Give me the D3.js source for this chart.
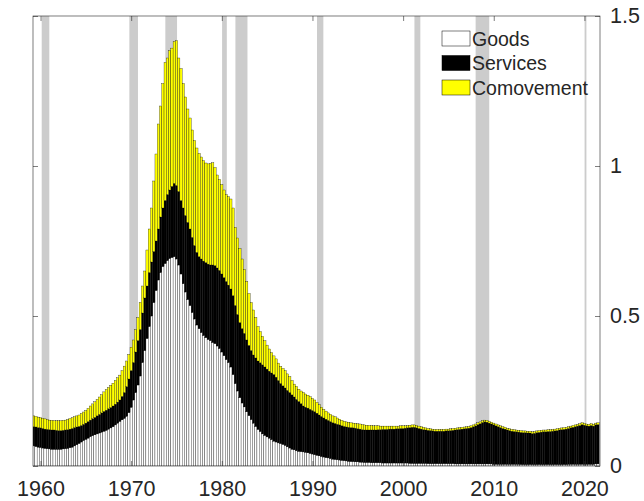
<!DOCTYPE html>
<html>
<head>
<meta charset="utf-8">
<script src="https://cdn.jsdelivr.net/npm/d3@7"></script>
<style>
  body { margin: 0; background: #fff; }
  text { font-family: "Liberation Sans", Arial, sans-serif; fill: #262626; }
</style>
</head>
<body>
<svg width="644" height="501"></svg>
<script>
// **** Data: quarterly, first bar is 1959 Q2 ****
var firstQuarter = 1959.25;

var goods = [
  .067,.065,.063,.062,.060,.059,.058,.057,.056,.056,
  .056,.056,.056,.057,.058,.059,.061,.063,.067,.071,
  .075,.080,.085,.089,.093,.098,.101,.104,.107,.110,
  .113,.116,.119,.123,.127,.131,.137,.143,.149,.154,
  .159,.166,.178,.196,.220,.245,.270,.300,.345,.385,
  .425,.465,.500,.545,.585,.620,.645,.665,.675,.685,
  .692,.695,.698,.690,.670,.640,.608,.580,.555,.535,
  .512,.490,.470,.458,.445,.435,.428,.422,.418,.412,
  .408,.400,.392,.380,.368,.355,.345,.330,.305,.275,
  .250,.228,.210,.197,.181,.168,.155,.143,.132,.122,
  .115,.107,.102,.097,.093,.088,.083,.080,.077,.075,
  .072,.069,.064,.060,.056,.054,.051,.049,.048,.047,
  .046,.044,.042,.040,.038,.036,.034,.032,.030,.028,
  .027,.025,.023,.022,.021,.020,.019,.018,.017,.016,
  .015,.015,.014,.014,.013,.013,.012,.012,.012,.011,
  .011,.011,.011,.011,.010,.010,.010,.010,.010,.010,
  .010,.010,.010,.010,.010,.010,.009,.009,.009,.009,
  .009,.009,.009,.009,.008,.008,.008,.008,.008,.008,
  .008,.008,.008,.008,.008,.008,.007,.007,.007,.007,
  .007,.007,.007,.007,.007,.007,.007,.007,.007,.007,
  .007,.007,.007,.006,.006,.006,.006,.006,.006,.006,
  .006,.006,.006,.006,.006,.005,.005,.005,.005,.005,
  .005,.005,.005,.005,.005,.005,.005,.005,.005,.005,
  .005,.005,.005,.005,.005,.005,.006,.006,.006,.006,
  .006,.006,.006,.006,.006,.006,.006,.006,.007,.007
];

var services = [
  .064,.065,.065,.065,.065,.064,.064,.064,.064,.064,
  .063,.062,.062,.062,.062,.062,.062,.062,.061,.059,
  .057,.055,.054,.054,.055,.055,.057,.058,.060,.062,
  .064,.066,.067,.068,.068,.069,.069,.070,.071,.078,
  .086,.099,.112,.122,.125,.135,.148,.155,.165,.175,
  .175,.180,.180,.170,.165,.170,.185,.195,.210,.220,
  .228,.237,.244,.245,.245,.245,.252,.255,.257,.255,
  .250,.245,.242,.240,.245,.248,.250,.251,.252,.258,
  .260,.260,.260,.260,.260,.260,.258,.260,.263,.260,
  .255,.250,.248,.245,.239,.234,.230,.227,.228,.228,
  .229,.230,.228,.226,.223,.222,.222,.216,.208,.200,
  .195,.191,.188,.185,.181,.176,.171,.166,.160,.153,
  .150,.149,.147,.145,.143,.140,.136,.133,.130,.128,
  .125,.123,.121,.120,.118,.117,.115,.114,.113,.113,
  .113,.112,.112,.110,.110,.108,.108,.108,.108,.109,
  .109,.109,.110,.110,.112,.112,.112,.113,.113,.113,
  .114,.114,.115,.115,.116,.117,.119,.120,.120,.118,
  .116,.114,.112,.111,.111,.110,.109,.108,.108,.108,
  .108,.108,.109,.109,.110,.111,.113,.114,.115,.116,
  .117,.118,.119,.121,.124,.127,.131,.134,.138,.140,
  .139,.136,.133,.131,.128,.125,.122,.119,.117,.114,
  .112,.110,.109,.108,.107,.107,.106,.106,.105,.105,
  .103,.104,.106,.107,.108,.109,.109,.110,.110,.111,
  .112,.113,.115,.116,.117,.118,.119,.121,.123,.125,
  .127,.129,.132,.130,.128,.127,.129,.127,.130,.131
];

var comovement = [
  .036,.035,.035,.034,.034,.034,.033,.032,.032,.031,
  .032,.033,.033,.033,.033,.034,.035,.036,.036,.037,
  .038,.040,.041,.042,.044,.047,.049,.052,.055,.058,
  .061,.065,.069,.071,.074,.076,.079,.081,.083,.086,
  .088,.085,.082,.078,.075,.075,.077,.090,.090,.090,
  .120,.145,.180,.235,.290,.350,.370,.415,.460,.455,
  .465,.461,.473,.483,.445,.440,.415,.395,.378,.370,
  .358,.350,.348,.344,.340,.335,.332,.334,.339,.341,
  .327,.310,.303,.298,.292,.290,.295,.300,.292,.260,
  .255,.247,.232,.213,.195,.173,.160,.150,.135,.115,
  .104,.095,.088,.080,.074,.068,.062,.061,.058,.057,
  .058,.058,.055,.053,.048,.043,.043,.041,.042,.045,
  .044,.043,.042,.040,.039,.036,.034,.031,.029,.027,
  .025,.024,.023,.022,.021,.019,.018,.017,.017,.017,
  .016,.016,.016,.017,.017,.017,.017,.016,.015,.015,
  .014,.014,.013,.012,.011,.011,.011,.010,.010,.010,
  .009,.009,.009,.009,.008,.008,.008,.008,.008,.008,
  .008,.008,.008,.007,.006,.006,.006,.006,.006,.006,
  .006,.006,.006,.006,.006,.006,.006,.006,.006,.006,
  .006,.006,.006,.006,.006,.006,.006,.006,.006,.006,
  .006,.006,.006,.006,.006,.006,.006,.006,.006,.006,
  .006,.006,.006,.006,.006,.006,.006,.006,.006,.006,
  .006,.006,.006,.006,.006,.006,.006,.006,.006,.006,
  .006,.006,.006,.006,.006,.006,.006,.006,.006,.006,
  .006,.006,.006,.006,.006,.006,.006,.006,.006,.006
];

// recession bands, start and end as decimal years
var recessions = [
  [1960.13, 1960.97], [1969.80, 1970.75], [1973.77, 1975.06],
  [1980.03, 1980.55], [1981.50, 1982.83], [1990.50, 1991.20],
  [2001.25, 2001.90], [2008.00, 2009.50], [2020.02, 2020.22]
];

var xTicks = [1960, 1970, 1980, 1990, 2000, 2010, 2020];
var yTicks = [0, 0.5, 1, 1.5];
var seriesNames = ["Goods", "Services", "Comovement"];
var seriesColors = ["#ffffff", "#000000", "#ffff00"];

// **** Scales ****
var plotLeft = 33, plotRight = 600, plotTop = 16, plotBottom = 466;

var xScale = d3.scaleLinear()
    .domain([1959.17, 2021.72]).range([plotLeft, plotRight]);

var yScale = d3.scaleLinear()
    .domain([0, 1.5]).range([plotBottom, plotTop]);

var table = goods.map(function(g, i) {
    return {
        t: firstQuarter + i / 4,
        Goods: g,
        Services: services[i],
        Comovement: comovement[i]
    };
});

var stacked = d3.stack().keys(seriesNames)(table);

var step = xScale(firstQuarter + 0.25) - xScale(firstQuarter);
var barWidth = step;

var svg = d3.select("svg");

svg.append("rect")
    .attr("width", 644).attr("height", 501)
    .attr("fill", "#fff");

svg.append("clipPath").attr("id", "plot")
    .append("rect")
    .attr("x", plotLeft).attr("y", plotTop)
    .attr("width", plotRight - plotLeft)
    .attr("height", plotBottom - plotTop);

var plot = svg.append("g").attr("clip-path", "url(#plot)");

// **** Recession shading ****
plot.selectAll(".recession")
    .data(recessions)
    .enter()
    .append("rect")
    .attr("class", "recession")
    .attr("x", function(d) { return xScale(d[0]); })
    .attr("width", function(d) { return xScale(d[1]) - xScale(d[0]); })
    .attr("y", plotTop)
    .attr("height", plotBottom - plotTop)
    .attr("fill", "#cccccc");

// **** Stacked bars ****
var layers = plot.selectAll(".layer")
    .data(stacked)
    .enter()
    .append("g")
    .attr("class", "layer")
    .attr("fill", function(d, i) { return seriesColors[i]; });

layers.selectAll("rect")
    .data(function(d) { return d; })
    .enter()
    .append("rect")
    .attr("x", function(d) { return xScale(d.data.t) - barWidth / 2; })
    .attr("width", barWidth)
    .attr("y", function(d) { return yScale(d[1]); })
    .attr("height", function(d) { return yScale(d[0]) - yScale(d[1]); })
    .attr("stroke", "#000")
    .attr("stroke-width", 0.3);

// **** Axes ****
function styleAxis(g) {
    g.select(".domain").remove();
    g.selectAll("line").attr("stroke", "#262626").attr("stroke-width", 0.6);
    g.selectAll("text")
        .attr("font-size", 21.5)
        .attr("font-family", '"Liberation Sans", Arial, sans-serif')
        .attr("fill", "#262626");
}

svg.append("g")
    .attr("transform", "translate(0," + plotBottom + ")")
    .call(d3.axisBottom(xScale).tickValues(xTicks)
        .tickSizeInner(-5).tickSizeOuter(0).tickPadding(15)
        .tickFormat(d3.format("d")))
    .call(styleAxis);

svg.append("g")
    .attr("transform", "translate(0," + plotTop + ")")
    .call(d3.axisTop(xScale).tickValues(xTicks)
        .tickSizeInner(-5).tickSizeOuter(0).tickFormat(""))
    .call(styleAxis);

svg.append("g")
    .attr("transform", "translate(" + plotRight + ",0)")
    .call(d3.axisRight(yScale).tickValues(yTicks)
        .tickSizeInner(-5).tickSizeOuter(0).tickPadding(10)
        .tickFormat(d3.format("~g")))
    .call(styleAxis);

svg.append("g")
    .attr("transform", "translate(" + plotLeft + ",0)")
    .call(d3.axisLeft(yScale).tickValues(yTicks)
        .tickSizeInner(-5).tickSizeOuter(0).tickFormat(""))
    .call(styleAxis);

svg.append("rect")
    .attr("x", plotLeft).attr("y", plotTop)
    .attr("width", plotRight - plotLeft)
    .attr("height", plotBottom - plotTop)
    .attr("fill", "none")
    .attr("stroke", "#262626")
    .attr("stroke-width", 0.6);

// **** Legend ****
var legend = svg.append("g")
    .attr("transform", "translate(442,31)");

var rows = legend.selectAll("g")
    .data(seriesNames)
    .enter()
    .append("g")
    .attr("transform", function(d, i) { return "translate(0," + (i * 24.5) + ")"; });

rows.append("rect")
    .attr("width", 28)
    .attr("height", 15)
    .attr("fill", function(d, i) { return seriesColors[i]; })
    .attr("stroke", "#000")
    .attr("stroke-width", 0.5);

rows.append("text")
    .attr("x", 30)
    .attr("y", 14.5)
    .attr("font-size", 19.5)
    .text(function(d) { return d; });
</script>
</body>
</html>
